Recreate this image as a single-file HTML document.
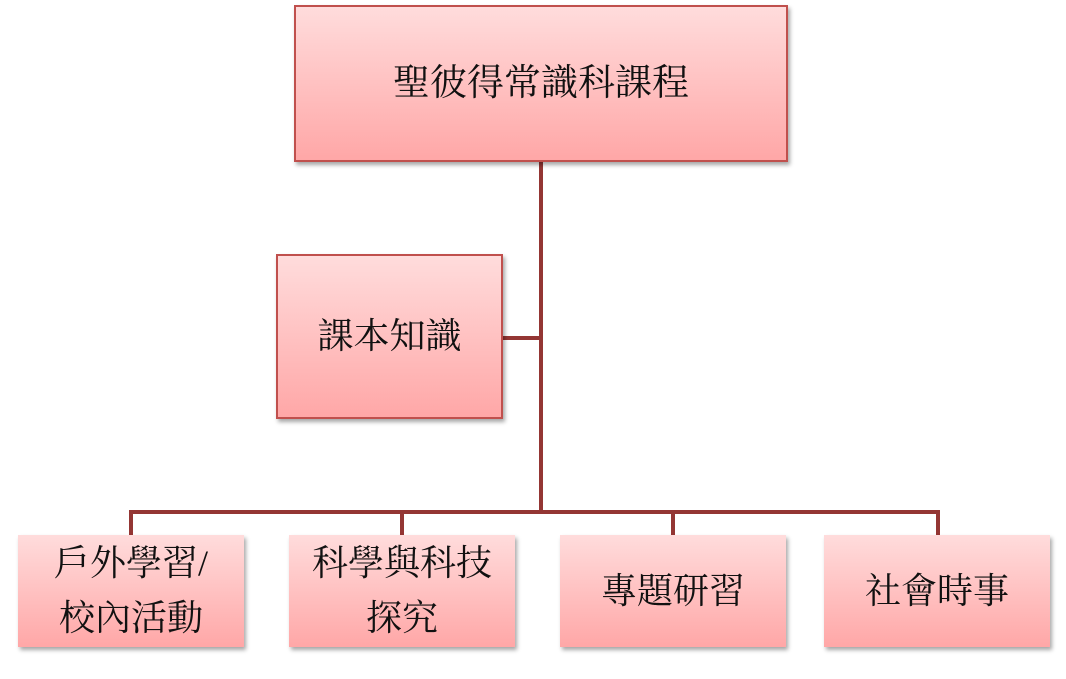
<!DOCTYPE html>
<html><head><meta charset="utf-8"><style>
body{margin:0;width:1066px;height:679px;background:#fff;position:relative;overflow:hidden;font-family:"Liberation Serif","Noto Serif CJK SC",serif;}
.b{position:absolute;box-sizing:border-box;background:linear-gradient(#ffdcdc,#ffa7a7);display:flex;align-items:center;justify-content:center;text-align:center;color:#111;box-shadow:2px 3px 4px rgba(0,0,0,.35);line-height:55px;}
.bd{border:2px solid #c0504d;}
.l{position:absolute;background:#943634;}
</style></head><body>
<div class="l" style="left:539px;top:160px;width:4px;height:354px"></div>
<div class="l" style="left:501px;top:336px;width:40px;height:4px"></div>
<div class="l" style="left:129px;top:510px;width:811px;height:4px"></div>
<div class="l" style="left:129px;top:510px;width:4px;height:26px"></div>
<div class="l" style="left:400px;top:510px;width:4px;height:26px"></div>
<div class="l" style="left:671px;top:510px;width:4px;height:26px"></div>
<div class="l" style="left:936px;top:510px;width:4px;height:26px"></div>
<div class="b bd" style="left:294px;top:5px;width:494px;height:157px;font-size:37px">聖彼得常識科課程</div>
<div class="b bd" style="left:276px;top:254px;width:227px;height:165px;font-size:36px">課本知識</div>
<div class="b" style="left:18px;top:535px;width:226px;height:112px;font-size:36px">戶外學習/<br>校內活動</div>
<div class="b" style="left:289px;top:535px;width:226px;height:112px;font-size:36px">科學與科技<br>探究</div>
<div class="b" style="left:560px;top:535px;width:226px;height:112px;font-size:36px">專題研習</div>
<div class="b" style="left:824px;top:535px;width:226px;height:112px;font-size:36px">社會時事</div>
</body></html>
